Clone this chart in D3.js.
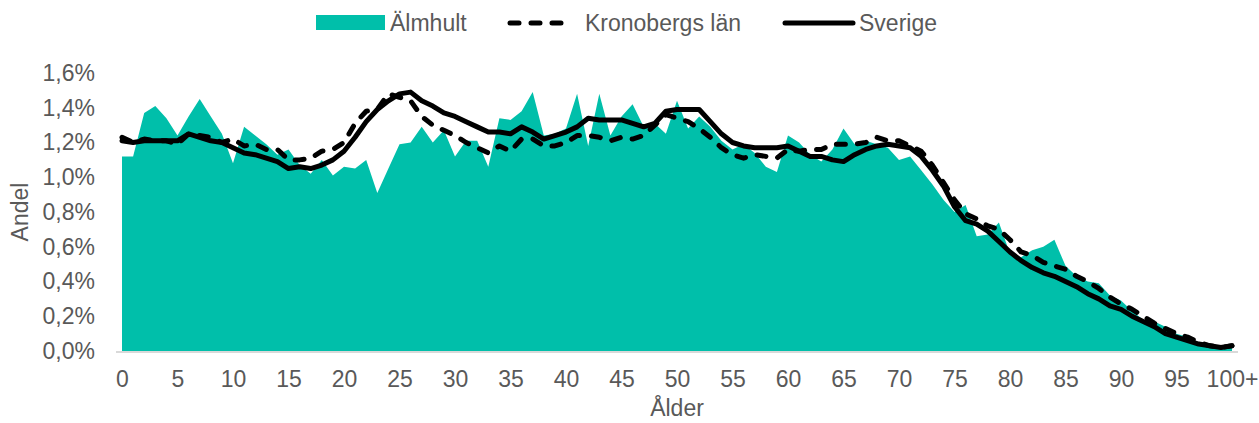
<!DOCTYPE html>
<html>
<head>
<meta charset="utf-8">
<script src="https://cdn.jsdelivr.net/npm/d3@7"></script>
<style>
html,body{margin:0;padding:0;background:#fff;}
svg{display:block;font-family:"Liberation Sans",Arial,sans-serif;}
</style>
</head>
<body>
<svg id="chart" width="1259" height="423"></svg>
<script>
const ages = d3.range(0, 101);
const ageLabels = ages.map(a => a === 100 ? "100+" : String(a));
const xTickLabels = ["0","5","10","15","20","25","30","35","40","45","50","55","60","65","70","75","80","85","90","95","100+"];
const yTicks = [0, 0.2, 0.4, 0.6, 0.8, 1.0, 1.2, 1.4, 1.6];

const almhult = [
1.12,1.12,1.37,1.41,1.34,1.24,1.35,1.45,1.35,1.25,
1.08,1.29,1.24,1.19,1.13,1.16,1.07,1.02,1.10,1.01,
1.06,1.05,1.10,0.91,1.05,1.19,1.20,1.29,1.20,1.27,
1.12,1.21,1.21,1.06,1.34,1.33,1.38,1.49,1.24,1.25,
1.28,1.48,1.18,1.48,1.24,1.35,1.42,1.29,1.31,1.25,
1.44,1.28,1.35,1.29,1.21,1.16,1.19,1.14,1.06,1.03,
1.24,1.20,1.13,1.09,1.16,1.28,1.19,1.21,1.19,1.17,
1.10,1.12,1.04,0.96,0.87,0.80,0.84,0.66,0.67,0.74,
0.56,0.54,0.58,0.60,0.64,0.49,0.43,0.40,0.39,0.32,
0.29,0.23,0.18,0.17,0.14,0.10,0.08,0.04,0.02,0.01,
0.02];

const kronoberg = [
1.23,1.20,1.22,1.21,1.21,1.19,1.25,1.24,1.23,1.20,
1.22,1.18,1.19,1.16,1.16,1.10,1.10,1.11,1.15,1.16,
1.20,1.31,1.38,1.39,1.48,1.46,1.44,1.35,1.30,1.27,
1.24,1.20,1.17,1.14,1.18,1.15,1.22,1.22,1.18,1.18,
1.20,1.24,1.24,1.23,1.21,1.23,1.22,1.24,1.30,1.36,
1.34,1.32,1.28,1.23,1.17,1.13,1.11,1.13,1.12,1.11,
1.16,1.15,1.16,1.16,1.19,1.19,1.19,1.20,1.23,1.21,
1.21,1.18,1.15,1.07,0.97,0.87,0.79,0.76,0.72,0.70,
0.64,0.57,0.55,0.51,0.49,0.47,0.43,0.40,0.36,0.31,
0.27,0.24,0.20,0.16,0.13,0.10,0.08,0.05,0.03,0.02,
0.03];

const sverige = [
1.21,1.20,1.21,1.21,1.21,1.21,1.25,1.23,1.21,1.20,
1.17,1.14,1.13,1.11,1.09,1.05,1.06,1.05,1.07,1.10,
1.15,1.23,1.32,1.39,1.44,1.48,1.49,1.44,1.41,1.37,
1.35,1.32,1.29,1.26,1.26,1.25,1.29,1.26,1.22,1.24,
1.26,1.29,1.34,1.33,1.33,1.33,1.31,1.29,1.31,1.38,
1.39,1.39,1.39,1.32,1.25,1.20,1.18,1.17,1.17,1.17,
1.18,1.15,1.12,1.12,1.10,1.09,1.13,1.16,1.18,1.19,
1.18,1.17,1.12,1.04,0.95,0.83,0.75,0.73,0.69,0.63,
0.57,0.52,0.48,0.45,0.43,0.40,0.37,0.33,0.30,0.26,
0.24,0.20,0.17,0.14,0.10,0.08,0.06,0.04,0.03,0.02,
0.03];

const seriesNames = ["Älmhult", "Kronobergs län", "Sverige"];
const teal = "#00BFAA";
const textColor = "#595959";
const fontSize = "23px";

const svg = d3.select("#chart");

const x = d3.scalePoint().domain(ageLabels).range([122, 1232]);
const y = d3.scaleLinear().domain([0, 1.6]).range([351, 73]);

const fmtPct = v => d3.format(".1f")(v).replace(".", ",") + "%";

// Area
const area = d3.area()
  .x((d, i) => x(ageLabels[i]))
  .y0(y(0))
  .y1(d => y(d));
svg.append("path").datum(almhult).attr("d", area).attr("fill", teal);

// Lines
const line = d3.line().x((d, i) => x(ageLabels[i])).y(d => y(d));
svg.append("path").datum(kronoberg).attr("d", line)
  .attr("fill", "none").attr("stroke", "#000").attr("stroke-width", 5)
  .attr("stroke-dasharray", "9,12").attr("stroke-linecap", "round").attr("stroke-linejoin", "round");
svg.append("path").datum(sverige).attr("d", line)
  .attr("fill", "none").attr("stroke", "#000").attr("stroke-width", 5)
  .attr("stroke-linecap", "round").attr("stroke-linejoin", "round");

// X axis
const xAxis = d3.axisBottom(x)
  .tickValues(xTickLabels)
  .tickSize(0)
  .tickPadding(20);
const gx = svg.append("g").attr("transform", `translate(0,${y(0)})`).call(xAxis);
gx.select(".domain").remove();
gx.selectAll("text").attr("fill", textColor).style("font-size", fontSize)
  .style("font-family", '"Liberation Sans", Arial, sans-serif');
svg.append("line").attr("x1", 116).attr("x2", 1238).attr("y1", y(0) + 1).attr("y2", y(0) + 1)
  .attr("stroke", "#d9d9d9").attr("stroke-width", 2);

// Y axis
const yAxis = d3.axisLeft(y).tickValues(yTicks).tickFormat(fmtPct).tickSize(0).tickPadding(27);
const gy = svg.append("g").attr("transform", `translate(122,0)`).call(yAxis);
gy.select(".domain").remove();
gy.selectAll("text").attr("fill", textColor).style("font-size", fontSize)
  .style("font-family", '"Liberation Sans", Arial, sans-serif');

// Axis titles
svg.append("text").attr("x", 677).attr("y", 416).attr("text-anchor", "middle")
  .attr("fill", textColor).style("font-size", fontSize).text("Ålder");
svg.append("text").attr("transform", "translate(28,212) rotate(-90)").attr("text-anchor", "middle")
  .attr("fill", textColor).style("font-size", fontSize).text("Andel");

// Legend
const lg = svg.append("g");
lg.append("rect").attr("x", 316).attr("y", 15).attr("width", 69).attr("height", 15).attr("fill", teal);
lg.append("text").attr("x", 390).attr("y", 31).attr("fill", textColor).style("font-size", fontSize).text(seriesNames[0]);
lg.append("line").attr("x1", 510).attr("x2", 570).attr("y1", 23).attr("y2", 23)
  .attr("stroke", "#000").attr("stroke-width", 5).attr("stroke-dasharray", "9,12").attr("stroke-linecap", "round");
lg.append("text").attr("x", 585).attr("y", 31).attr("fill", textColor).style("font-size", fontSize).text(seriesNames[1]);
lg.append("line").attr("x1", 785).attr("x2", 853).attr("y1", 23).attr("y2", 23)
  .attr("stroke", "#000").attr("stroke-width", 5).attr("stroke-linecap", "round");
lg.append("text").attr("x", 859).attr("y", 31).attr("fill", textColor).style("font-size", fontSize).text(seriesNames[2]);
</script>
</body>
</html>
